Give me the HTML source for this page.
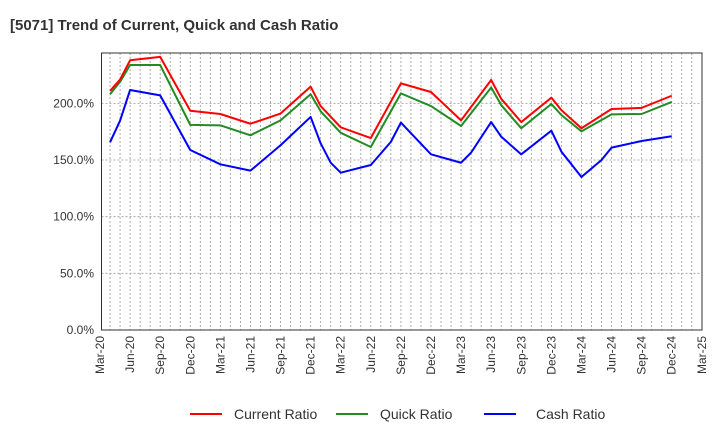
<!DOCTYPE html>
<html><head><meta charset="utf-8"><style>
body{margin:0;background:#fff;font-family:"Liberation Sans",sans-serif}
</style></head><body>
<svg width="720" height="440" xmlns="http://www.w3.org/2000/svg" font-family="Liberation Sans, sans-serif">
<text x="10" y="30" font-size="15" font-weight="bold" fill="#333">[5071]  Trend of Current, Quick and Cash Ratio</text>
<g id="grid"></g>
<rect x="101.5" y="53" width="600.5" height="277" fill="none" stroke="#333" stroke-width="1"/>
<g id="axes"></g>
<g id="series"></g>
<g>
<line x1="190" y1="414" x2="222" y2="414" stroke="#f00" stroke-width="2"/>
<text x="234" y="419" font-size="14" fill="#333">Current Ratio</text>
<line x1="336" y1="414" x2="368" y2="414" stroke="#228b22" stroke-width="2"/>
<text x="380" y="419" font-size="14" fill="#333">Quick Ratio</text>
<line x1="484" y1="414" x2="516" y2="414" stroke="#00f" stroke-width="2"/>
<text x="536" y="419" font-size="14" fill="#333">Cash Ratio</text>
</g>
</svg>
<script>
const yTicks=[0,50,100,150,200];
const xTickLabels=["Mar-20","Jun-20","Sep-20","Dec-20","Mar-21","Jun-21","Sep-21","Dec-21","Mar-22","Jun-22","Sep-22","Dec-22","Mar-23","Jun-23","Sep-23","Dec-23","Mar-24","Jun-24","Sep-24","Dec-24","Mar-25"];
const monthsRQ=[1,2,3,6,9,12,15,18,21,22,24,27,30,33,36,39,40,42,45,46,48,51,54,57];
const currentRatio=[211,221,238,241,193.5,190.6,182,191,214.7,197.6,178.8,169.4,217.6,210,185,220.6,204,183.5,205,194,178,195,196,206.7];
const quickRatio=[208,219,233.8,233.8,181,180.6,171.8,185,208,193,174,161.5,208.8,197.6,180,214,198.5,178,199.4,189.7,175.3,190.3,190.6,201.2];
const monthsCash=[1,2,3,6,9,12,15,18,21,22,23,24,27,29,30,33,36,37,39,40,42,45,46,48,50,51,54,57];
const cashRatio=[165.6,184.7,211.8,207,158.8,146.2,140.6,163,188,164.7,147.6,138.8,145.6,166,183,155,147.6,156.5,183.5,170.6,155,175.9,157.4,135,150,160.9,166.8,171];
const NS="http://www.w3.org/2000/svg";
const X=m=>100+m*10.03;
const Y=v=>330-v*1.1333;
function mk(t,a,p){const e=document.createElementNS(NS,t);for(const k in a)e.setAttribute(k,a[k]);p.appendChild(e);return e;}
const grid=document.getElementById('grid'),axes=document.getElementById('axes'),ser=document.getElementById('series');
for(let m=1;m<60;m++){const l=mk('line',{x1:X(m),x2:X(m),y1:53,y2:330,stroke:'#999','stroke-width':0.8,'stroke-dasharray':'2,2'},grid);

}
yTicks.forEach(v=>{const l=mk('line',{x1:101.5,x2:702,y1:Y(v),y2:Y(v),stroke:'#999','stroke-width':0.8,'stroke-dasharray':'2,2'},grid);


const t=mk('text',{x:94,y:Y(v)+4,'text-anchor':'end','font-size':12,fill:'#333'},axes);t.textContent=v.toFixed(1)+'%';

});
xTickLabels.forEach((s,i)=>{const x=X(i*3);const t=mk('text',{x:0,y:0,transform:`translate(${x+4},336) rotate(-90)`,'text-anchor':'end','font-size':12,fill:'#333'},axes);t.textContent=s;

});
function line(ms,vs,c,name){const p=mk('polyline',{points:ms.map((m,i)=>X(m)+','+Y(vs[i])).join(' '),fill:'none',stroke:c,'stroke-width':2,'stroke-linejoin':'round'},ser);

}
line(monthsCash,cashRatio,'#0000ff','cash-ratio-line');
line(monthsRQ,quickRatio,'#228b22','quick-ratio-line');
line(monthsRQ,currentRatio,'#ff0000','current-ratio-line');
</script>
</body></html>
